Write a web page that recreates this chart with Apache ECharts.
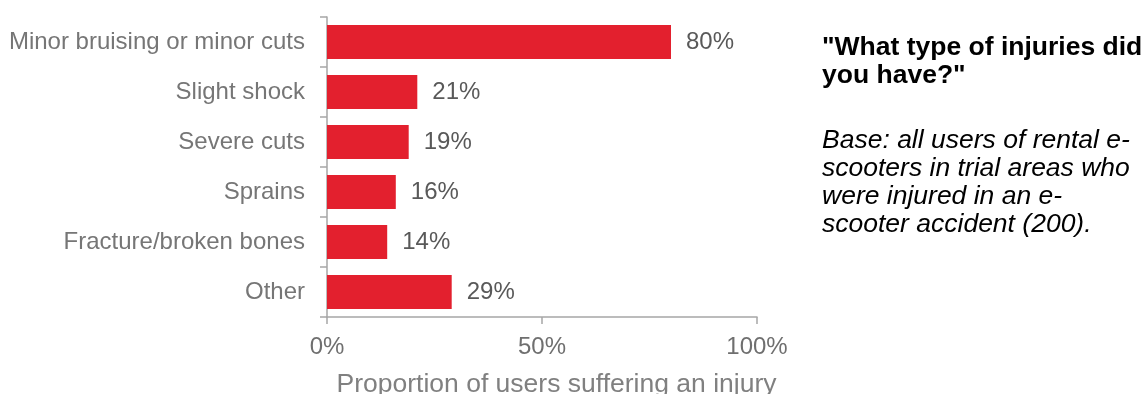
<!DOCTYPE html>
<html>
<head>
<meta charset="utf-8">
<script src="https://cdn.jsdelivr.net/npm/echarts@6/dist/echarts.min.js"></script>
<style>
  html, body { margin: 0; padding: 0; background: #ffffff; overflow: hidden; }
  #chart { width: 1146px; height: 394px; }
</style>
</head>
<body>
<div id="chart"></div>
<script>
// Injury types reported by rental e-scooter users (percent of injured users)
const categories = [
  'Minor bruising or minor cuts',
  'Slight shock',
  'Severe cuts',
  'Sprains',
  'Fracture/broken bones',
  'Other'
];
const shares = [80, 21, 19, 16, 14, 29];
const axisTicks = [0, 50, 100];
const questionLines = ['"What type of injuries did', 'you have?"'];
const baseLines = [
  'Base: all users of rental e-',
  'scooters in trial areas who',
  'were injured in an e-',
  'scooter accident (200).'
];
const axisTitle = 'Proportion of users suffering an injury';

const FONT = '"Liberation Sans", Arial, sans-serif';
const AXIS_GREY = '#a6a6a6';

const chart = echarts.init(document.getElementById('chart'), null, {
  renderer: 'canvas', width: 1146, height: 394
});

chart.setOption({
  animation: false,
  backgroundColor: '#ffffff',
  // fixed plot box; the axis title is allowed to run past the bottom edge
  grid: {
    left: 327, top: 17, width: 430, height: 300,
    containLabel: false, outerBoundsMode: 'none'
  },
  xAxis: {
    type: 'value',
    min: axisTicks[0],
    max: axisTicks[axisTicks.length - 1],
    interval: axisTicks[1] - axisTicks[0],
    name: axisTitle,
    nameLocation: 'middle',
    nameGap: 54,
    nameTextStyle: {
      fontFamily: FONT, fontSize: 26.5, color: '#808080',
      padding: [0, 0, 0, 29]
    },
    axisLine: { show: true, lineStyle: { color: AXIS_GREY, width: 1.5 } },
    axisTick: { show: true, length: 7, lineStyle: { color: AXIS_GREY, width: 1.5 } },
    axisLabel: {
      formatter: '{value}%', margin: 18,
      fontFamily: FONT, fontSize: 24, color: '#6f6f6f'
    },
    splitLine: { show: false }
  },
  yAxis: {
    type: 'category',
    data: categories,
    inverse: true,
    axisLine: { show: true, lineStyle: { color: AXIS_GREY, width: 1.5 } },
    axisTick: { show: true, length: 7, lineStyle: { color: AXIS_GREY, width: 1.5 } },
    axisLabel: {
      margin: 22, fontFamily: FONT, fontSize: 24, color: '#767676'
    },
    splitLine: { show: false }
  },
  series: [{
    type: 'bar',
    data: shares,
    barWidth: 34,
    itemStyle: { color: '#e3202e' },
    label: {
      show: true,
      position: 'right',
      distance: 15,
      formatter: '{c}%',
      fontFamily: FONT,
      fontSize: 24,
      color: '#595959'
    }
  }],
  graphic: [
    {
      type: 'text', left: 822, top: 33,
      style: {
        text: questionLines.join('\n'),
        font: 'bold 26.5px ' + FONT,
        lineHeight: 28.5,
        fill: '#000000'
      }
    },
    {
      type: 'text', left: 822, top: 127,
      style: {
        text: baseLines.join('\n'),
        font: 'italic 26.5px ' + FONT,
        lineHeight: 28,
        fill: '#000000'
      }
    }
  ]
});
</script>
</body>
</html>
